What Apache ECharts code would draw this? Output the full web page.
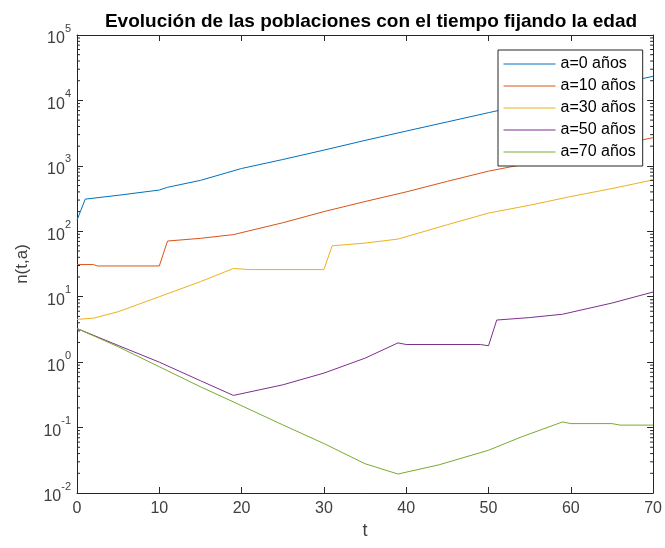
<!DOCTYPE html>
<html><head><meta charset="utf-8">
<script src="https://cdn.jsdelivr.net/npm/echarts@6/dist/echarts.min.js"></script>
<style>html,body{margin:0;padding:0;background:#fff}#c{width:665px;height:548px}</style>
</head><body><div id="c"></div>
<script>
// Data: [t, n(t,a)]
const a0 = [[0,148],[1,310],[5,355],[10,427],[11,470],[15,600],[20,912],[25,1250],[30,1740],[35,2450],[40,3400],[45,4700],[50,6500],[55,8900],[60,12300],[65,17000],[70,23400]];
const a10 = [[0,31],[2,31],[2.5,29.5],[10,29.5],[11,71],[15,78],[19,89],[25,135],[30,200],[35,285],[40,400],[45,580],[50,830],[55,1100],[60,1500],[65,2000],[70,2700]];
const a30 = [[0,4.5],[2,4.7],[5,5.9],[10,10],[15,17],[19,27],[21,26],[30,26],[31,60],[35,66],[39,76],[45,126],[50,190],[55,250],[60,340],[65,450],[70,610]];
const a50 = [[0,3.27],[5,1.8],[10,1.0],[15,0.52],[19,0.31],[25,0.45],[30,0.68],[35,1.15],[39,1.97],[40,1.86],[49,1.86],[50,1.78],[51,4.4],[55,4.8],[59,5.4],[65,8],[70,11.8]];
const a70 = [[0,3.27],[5,1.72],[10,0.85],[15,0.42],[19,0.247],[25,0.11],[30,0.057],[35,0.028],[39,0.0195],[44,0.027],[50,0.045],[54,0.072],[59,0.122],[60,0.115],[65,0.115],[66,0.109],[70,0.109]];
const seriesNames = ['a=0 años','a=10 años','a=30 años','a=50 años','a=70 años'];
const xTicks = [0,10,20,30,40,50,60,70];
const yDecades = [-2,-1,0,1,2,3,4,5];
const colors = ['#0072BD','#D95319','#EDB120','#7E2F8E','#77AC30'];

const minorVals = [];
for (let k = -2; k < 5; k++) for (let m = 2; m <= 9; m++) minorVals.push(m * Math.pow(10, k));

const axisCol = '#262626';
const labCol = '#404040';
const font = 'Liberation Sans, Arial, Helvetica, sans-serif';
const chart = echarts.init(document.getElementById('c'), null, {renderer: 'canvas'});

const yFmt = v => {
  const e = Math.round(Math.log10(v));
  return '{b|10}{s|' + e + '}';
};
const yRich = {
  b: {fontSize: 16, fontFamily: font, color: labCol, lineHeight: 24, verticalAlign: 'bottom'},
  s: {fontSize: 11, fontFamily: font, color: labCol, lineHeight: 11, verticalAlign: 'top'}
};

const baseX = {
  type: 'value', min: xTicks[0], max: xTicks[xTicks.length-1], interval: 10,
  axisLine: {show: true, onZero: false, lineStyle: {color: axisCol, width: 1}},
  axisTick: {show: true, inside: true, length: 6, lineStyle: {color: axisCol}},
  splitLine: {show: false}
};
const baseY = {
  type: 'log', logBase: 10, min: Math.pow(10, yDecades[0]), max: Math.pow(10, yDecades[yDecades.length-1]), interval: 1,
  axisLine: {show: true, onZero: false, lineStyle: {color: axisCol, width: 1}},
  axisTick: {show: true, inside: true, length: 6, lineStyle: {color: axisCol}},
  splitLine: {show: false}
};

const lineSeries = [a0, a10, a30, a50, a70].map((d, i) => ({
  name: seriesNames[i], type: 'line', data: d, symbol: 'none', showSymbol: false,
  lineStyle: {color: colors[i], width: 1}, itemStyle: {color: colors[i]},
  xAxisIndex: 0, yAxisIndex: 0, animation: false, z: 3
}));

const minorSeries = {
  type: 'custom', name: 'minor', xAxisIndex: 0, yAxisIndex: 0, silent: true, z: 4,
  data: minorVals.map(v => [xTicks[0], v]),
  renderItem: (params, api) => {
    const v = api.value(1);
    const p0 = api.coord([xTicks[0], v]);
    const p1 = api.coord([xTicks[xTicks.length-1], v]);
    const st = {stroke: axisCol, lineWidth: 1};
    return {type: 'group', children: [
      {type: 'line', shape: {x1: p0[0], y1: p0[1], x2: p0[0] + 3, y2: p0[1]}, style: st},
      {type: 'line', shape: {x1: p1[0], y1: p1[1], x2: p1[0] - 3, y2: p1[1]}, style: st}
    ]};
  },
  animation: false
};

chart.setOption({
  animation: false,
  backgroundColor: '#ffffff',
  title: {
    text: 'Evolución de las poblaciones con el tiempo fijando la edad',
    left: 366, textAlign: 'center', top: 7,
    textStyle: {fontSize: 19, fontWeight: 'bold', fontFamily: font, color: '#000'}
  },
  grid: {left: 77, right: 9, top: 35, bottom: 55, containLabel: false},
  legend: {
    data: seriesNames, orient: 'vertical', left: 498, top: 50,
    itemWidth: 52, itemHeight: 16, itemGap: 6,
    padding: [6, 7, 6, 5],
    borderColor: axisCol, borderWidth: 1, backgroundColor: '#fff',
    itemStyle: {opacity: 0},
    lineStyle: {width: 1},
    textStyle: {fontSize: 16, fontFamily: font, color: '#000'},
    selectedMode: false
  },
  xAxis: [
    Object.assign({}, baseX, {
      position: 'bottom', name: 't', nameLocation: 'middle', nameGap: 27,
      nameTextStyle: {fontSize: 18, fontFamily: font, color: labCol},
      axisLabel: {fontSize: 16, fontFamily: font, color: labCol, margin: 8}
    }),
    Object.assign({}, baseX, {position: 'top', axisLabel: {show: false}})
  ],
  yAxis: [
    Object.assign({}, baseY, {
      position: 'left', name: 'n(t,a)', nameLocation: 'middle', nameGap: 46,
      nameTextStyle: {fontSize: 17, fontFamily: font, color: labCol},
      axisLabel: {formatter: yFmt, rich: yRich, margin: 6}
    }),
    Object.assign({}, baseY, {position: 'right', axisLabel: {show: false}})
  ],
  series: lineSeries.concat([minorSeries])
});
</script>
</body></html>
